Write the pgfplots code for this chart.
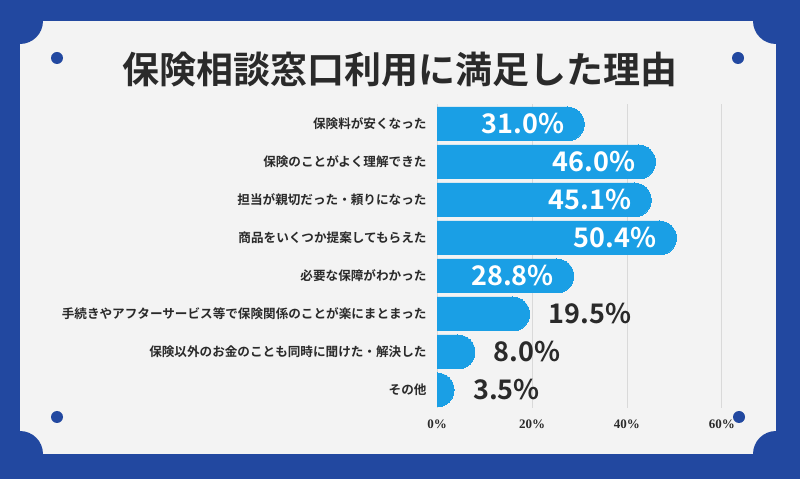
\documentclass[border=0pt]{standalone}
\usepackage{pgfplots}
\pgfplotsset{compat=1.18}
\usepackage{pgfplotstable}
\usepackage{fontspec}
\setmainfont{Noto Sans CJK JP}[BoldFont={Noto Sans CJK JP Bold}]
\newfontfamily\serifb{Liberation Serif}
\definecolor{bgblue}{HTML}{2248A0}
\definecolor{card}{HTML}{F3F3F3}
\definecolor{barblue}{HTML}{1A9FE5}
\definecolor{textdark}{HTML}{2A2A2A}
\definecolor{gridc}{HTML}{D9D9D9}
\pgfplotstableread{
y v
0 31.0
1 46.0
2 45.1
3 50.4
4 28.8
5 19.5
6 8.0
7 3.5
}\datatable
\begin{document}
\begin{tikzpicture}
\useasboundingbox (0,0) rectangle (800pt,479pt);
\fill[bgblue] (0,0) rectangle (800pt,479pt);
\fill[card] (20pt,25pt) rectangle (776pt,458pt);
\foreach \cx/\cy in {20/25,776/25,20/458,776/458}{\fill[bgblue] (\cx pt,\cy pt) circle[radius=23pt];}
\foreach \cx/\cy in {57/421,738/421,57/62,739/62}{\fill[bgblue] (\cx pt,\cy pt) circle[radius=6pt];}
\node[text=textdark, font=\bfseries\fontsize{37}{37}\selectfont] at (400pt,409pt) {保険相談窓口利用に満足した理由};
\begin{axis}[
  at={(437pt,71pt)}, anchor=south west,
  scale only axis, width=285pt, height=304pt,
  xmin=0, xmax=60, ymin=-0.526, ymax=7.474,
  y dir=reverse,
  axis line style={draw=none},
  major tick length=0pt,
  xtick={0,20,40,60},
  xticklabel={\pgfmathprintnumber{\tick}\%},
  /pgf/number format/assume math mode=true,
  xticklabel style={font=\serifb\bfseries\fontsize{13}{13}\selectfont, text=textdark, yshift=-8pt},
  ytick={0,...,7},
  yticklabels={保険料が安くなった,保険のことがよく理解できた,担当が親切だった・頼りになった,商品をいくつか提案してもらえた,必要な保障がわかった,手続きやアフターサービス等で保険関係のことが楽にまとまった,保険以外のお金のことも同時に聞けた・解決した,その他},
  yticklabel style={font=\bfseries\fontsize{12.6}{13}\selectfont, text=textdark, xshift=-7pt},
  xmajorgrids, grid style={gridc, line width=1pt},
  clip mode=individual, clip marker paths=true,
]
\addplot[xbar, bar width=34pt, fill=barblue, draw=none,
  mark=*, mark size=17pt, mark options={fill=barblue, draw=barblue, line width=0pt},
  visualization depends on={\thisrow{v} \as \rawv},
  nodes near coords={\pgfmathparse{\rawv>25 ? 1 : 0}\ifnum\pgfmathresult=1 \color{white}\llap{\pgfmathprintnumber[fixed,fixed zerofill,precision=1,assume math mode=true]{\rawv}\%\hspace{3pt}}\else\color{textdark}\rlap{\hspace{36pt}\pgfmathprintnumber[fixed,fixed zerofill,precision=1,assume math mode=true]{\rawv}\%}\fi},
  nodes near coords style={anchor=center, inner sep=0pt, font=\bfseries\fontsize{27}{27}\selectfont},
] table[x expr={max(\thisrow{v}-3.58,0.02)}, y=y] {\datatable};
\end{axis}
\end{tikzpicture}
\end{document}
